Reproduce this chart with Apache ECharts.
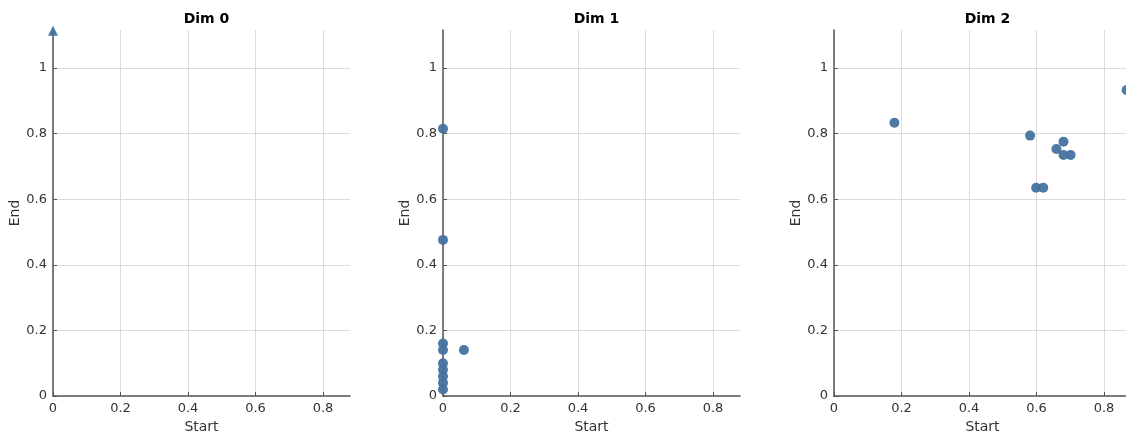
<!DOCTYPE html>
<html>
<head>
<meta charset="utf-8">
<script src="https://cdn.jsdelivr.net/npm/echarts@6/dist/echarts.min.js"></script>
<style>
html,body{margin:0;padding:0;background:#fff;}
#chart{width:1126px;height:434px;}
</style>
</head>
<body>
<div id="chart"></div>
<script>
// ---- data ----
const panelTitles = ['Dim 0', 'Dim 1', 'Dim 2'];
const xTicks = [0, 0.2, 0.4, 0.6, 0.8];
const yTicks = [0, 0.2, 0.4, 0.6, 0.8, 1];
const dim0Start = [0];
const dim0End = [1.114]; // infinite bar, drawn at top
const dim1Start = [0, 0, 0, 0, 0, 0, 0, 0, 0, 0.062];
const dim1End = [0.815, 0.476, 0.16, 0.14, 0.10, 0.08, 0.06, 0.04, 0.02, 0.14];
const dim2Start = [0.179, 0.581, 0.659, 0.680, 0.680, 0.701, 0.599, 0.620, 0.867];
const dim2End = [0.833, 0.794, 0.753, 0.775, 0.735, 0.735, 0.635, 0.635, 0.933];

const X_MAX = 0.88, Y_MAX = 1.116;
const lefts = [53, 443, 834];
const W = 297;
const color = '#44729f';
const font = 'DejaVu Sans';

const chart = echarts.init(document.getElementById('chart'));
const grids = [], xAxes = [], yAxes = [], titles = [], series = [];
const pairs = [[dim0Start, dim0End], [dim1Start, dim1End], [dim2Start, dim2End]];

lefts.forEach((l, i) => {
  grids.push({left: l, width: W, top: 30, bottom: 38, containLabel: false, outerBoundsMode: 'none'});
  titles.push({
    text: panelTitles[i], left: l + W / 2, top: 7, textAlign: 'center',
    textStyle: {fontFamily: font, fontSize: 14, fontWeight: 'bold', color: '#000'}
  });
  const axLine = {show: true, lineStyle: {color: '#555', width: 1.5}};
  xAxes.push({
    type: 'value', gridIndex: i, min: 0, max: X_MAX, interval: 0.2,
    name: 'Start', nameLocation: 'middle', nameGap: 22,
    nameTextStyle: {fontFamily: font, fontSize: 14, color: '#333'},
    axisLine: axLine,
    axisTick: {show: true, inside: true, length: 4, lineStyle: {color: '#555'}},
    axisLabel: {fontFamily: font, fontSize: 13, color: '#333', margin: 6, showMaxLabel: false,
      formatter: v => xTicks.some(t => Math.abs(t - v) < 1e-9) ? String(+v.toFixed(1)) : ''},
    splitLine: {show: true, showMaxLine: false, lineStyle: {color: '#dcdcdc', width: 1}}
  });
  yAxes.push({
    type: 'value', gridIndex: i, min: 0, max: Y_MAX, interval: 0.2,
    name: 'End', nameLocation: 'middle', nameGap: 31, nameRotate: 90,
    nameTextStyle: {fontFamily: font, fontSize: 14, color: '#333'},
    axisLine: axLine,
    axisTick: {show: true, inside: true, length: 4, lineStyle: {color: '#555'}},
    axisLabel: {fontFamily: font, fontSize: 13, color: '#333', margin: 6, showMaxLabel: false,
      formatter: v => yTicks.some(t => Math.abs(t - v) < 1e-9) ? String(+v.toFixed(1)) : ''},
    splitLine: {show: true, showMaxLine: false, lineStyle: {color: '#dcdcdc', width: 1}}
  });
  const [s, e] = pairs[i];
  series.push({
    type: 'scatter', xAxisIndex: i, yAxisIndex: i,
    data: s.map((v, k) => [v, e[k]]),
    symbol: i === 0 ? 'triangle' : 'circle',
    symbolSize: 10,
    clip: false,
    itemStyle: {color: color, opacity: 0.95},
    z: 5
  });
});

chart.setOption({
  animation: false,
  backgroundColor: '#fff',
  title: titles,
  grid: grids,
  xAxis: xAxes,
  yAxis: yAxes,
  series: series
});
</script>
</body>
</html>
